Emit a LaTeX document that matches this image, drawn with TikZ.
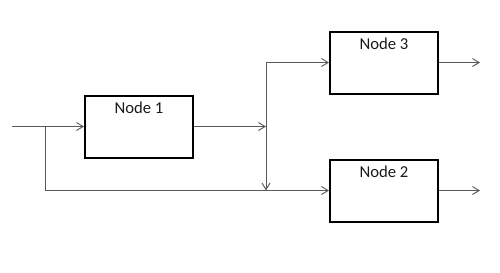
\documentclass[tikz,border=0pt]{standalone}
\usepackage{fontspec}
\setmainfont{Carlito}
\usepackage{tikz}
\usetikzlibrary{arrows.meta,positioning,calc}

\begin{document}
\begin{tikzpicture}[x=0.75pt,y=-0.75pt,
  block/.style={draw=black,line width=1.5pt,minimum width=81pt,minimum height=46.5pt,inner sep=0pt,
    label={[anchor=north,inner sep=5.5pt,font=\fontsize{12.5}{14}\selectfont,text=black!90]north:#1}},
  wire/.style={draw=black!65,line width=0.7pt},
  arrow/.style={wire,-{Straight Barb[length=5pt,width=6pt]}}]
  \useasboundingbox (0,0) rectangle (500,272);
  \node[block=Node 1] (n1) at (139,126.5) {};
  \node[block=Node 3, above right=0pt and 101.25pt of n1] (n3) {};
  \node[block=Node 2, below right=0pt and 101.25pt of n1] (n2) {};
  \coordinate[left=54pt of n1.west] (in);
  \coordinate[left=29.25pt of n1.west] (sp);
  \coordinate[left=47.25pt of n3.west] (jt);
  \coordinate (jb) at (jt |- n2.west);
  \coordinate[right=30.75pt of n3.east] (o3);
  \coordinate[right=30.75pt of n2.east] (o2);
  \draw[arrow] (in) -- (n1);
  \draw[arrow] (sp) |- (n2);
  \draw[arrow] (n1) -- (n1 -| jt);
  \draw[arrow] (jt) -- (jb);
  \draw[arrow] (jt) -- (n3);
  \draw[arrow] (n3) -- (o3); \draw[arrow] (n2) -- (o2);
\end{tikzpicture}
\end{document}
